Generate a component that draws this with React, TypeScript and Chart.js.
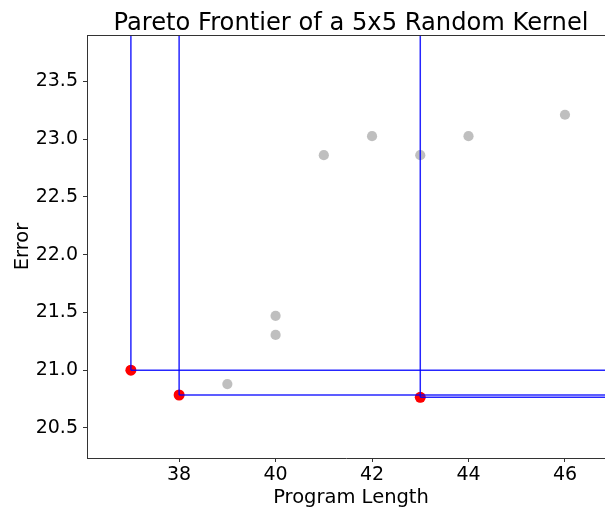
import React, { useEffect, useRef } from "react";
import { Chart, registerables } from "chart.js";

Chart.register(...registerables);

// All evaluated programs (length, error)
const allLengths = [37, 38, 39, 40, 40, 41, 42, 43, 43, 44, 46];
const allErrors = [21.0, 20.785, 20.88, 21.47, 21.305, 22.86, 23.025, 22.86, 20.765, 23.025, 23.21];

// Pareto frontier points
const paretoLengths = [37, 38, 43];
const paretoErrors = [21.0, 20.785, 20.765];

const xTicks = [38, 40, 42, 44, 46];
const yTicks = [20.5, 21.0, 21.5, 22.0, 22.5, 23.0, 23.5];

const titleText = "Pareto Frontier of a 5x5 Random Kernel";
const xLabel = "Program Length";
const yLabel = "Error";

const xMin = 36.09;
const xMax = 46.83;
const yMin = 20.24;
const yMax = 23.9;

const FONT = "'DejaVu Sans', 'Liberation Sans', sans-serif";

export default function App() {
  const ref = useRef<HTMLCanvasElement | null>(null);

  useEffect(() => {
    document.body.style.margin = "0";
    const canvas = ref.current;
    if (!canvas) return;

    const lineDatasets: any[] = [];
    paretoLengths.forEach((px, i) => {
      const py = paretoErrors[i];
      lineDatasets.push({
        data: [
          { x: px, y: py },
          { x: px, y: yMax + 1 },
        ],
        showLine: true,
        borderColor: "rgba(0,0,255,0.85)",
        borderWidth: 1.5,
        pointRadius: 0,
        order: 0,
      });
      lineDatasets.push({
        data: [
          { x: px, y: py },
          { x: xMax + 1, y: py },
        ],
        showLine: true,
        borderColor: "rgba(0,0,255,0.85)",
        borderWidth: 1.5,
        pointRadius: 0,
        order: 0,
      });
    });

    const decorations = {
      id: "decorations",
      afterDraw(chart: any) {
        const { ctx, chartArea } = chart;
        ctx.save();
        // top spine
        ctx.strokeStyle = "#333";
        ctx.lineWidth = 1;
        ctx.beginPath();
        ctx.moveTo(chartArea.left, Math.round(chartArea.top) + 0.5);
        ctx.lineTo(chartArea.right, Math.round(chartArea.top) + 0.5);
        ctx.stroke();
        // title and x label, centred over the full axes (which extend past the crop)
        ctx.fillStyle = "#000";
        ctx.textAlign = "center";
        ctx.textBaseline = "alphabetic";
        ctx.font = `24.2px ${FONT}`;
        ctx.fillText(titleText, 351, 30);
        ctx.font = `19.5px ${FONT}`;
        ctx.fillText(xLabel, 351, 502.5);
        ctx.restore();
      },
    };

    const chart = new Chart(canvas, {
      type: "scatter",
      data: {
        datasets: [
          ...lineDatasets,
          {
            data: paretoLengths.map((x, i) => ({ x, y: paretoErrors[i] })),
            backgroundColor: "#ff0000",
            borderColor: "#ff0000",
            pointRadius: 5.5,
            borderWidth: 0,
            order: 1,
          },
          {
            data: allLengths.map((x, i) => ({ x, y: allErrors[i] })),
            backgroundColor: "rgba(128,128,128,0.5)",
            borderColor: "rgba(128,128,128,0)",
            pointRadius: 5.1,
            borderWidth: 0,
            order: 2,
          },
        ],
      },
      options: {
        responsive: false,
        animation: false,
        layout: { autoPadding: false, padding: { left: 0, right: 0, top: 35, bottom: 0 } },
        plugins: {
          legend: { display: false },
          tooltip: { enabled: false },
          title: { display: false },
        },
        scales: {
          x: {
            type: "linear",
            min: xMin,
            max: xMax,
            afterBuildTicks: (scale: any) => {
              scale.ticks = xTicks.map((v) => ({ value: v }));
            },
            afterFit: (scale: any) => {
              scale.height = 49;
              scale.paddingLeft = 0;
              scale.paddingRight = 0;
            },
            ticks: {
              color: "#000",
              font: { family: FONT, size: 19 },
              padding: 2,
              maxRotation: 0,
              callback: (v: any) => String(v),
            },
            grid: {
              display: true,
              drawOnChartArea: false,
              drawTicks: true,
              tickLength: 4,
              color: "#333",
            },
            border: { display: true, color: "#333", width: 1 },
            title: { display: false },
          },
          y: {
            type: "linear",
            min: yMin,
            max: yMax,
            afterBuildTicks: (scale: any) => {
              scale.ticks = yTicks.map((v) => ({ value: v }));
            },
            afterFit: (scale: any) => {
              scale.width = 87;
              scale.paddingTop = 0;
              scale.paddingBottom = 0;
            },
            ticks: {
              color: "#000",
              font: { family: FONT, size: 19 },
              padding: 5,
              callback: (v: any) => Number(v).toFixed(1),
            },
            grid: {
              display: true,
              drawOnChartArea: false,
              drawTicks: true,
              tickLength: 4,
              color: "#333",
            },
            border: { display: true, color: "#333", width: 1 },
            title: {
              display: true,
              text: yLabel,
              color: "#000",
              font: { family: FONT, size: 19.5 },
              padding: { top: 11, bottom: 0 },
            },
          },
        },
      },
      plugins: [decorations],
    });

    return () => chart.destroy();
  }, []);

  return (
    <div style={{ position: "absolute", left: 0, top: 0, width: 605, height: 507 }}>
      <canvas ref={ref} width={605} height={507} />
    </div>
  );
}
